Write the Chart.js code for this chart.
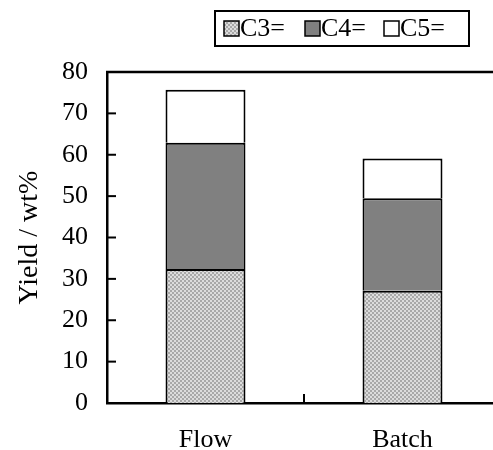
<!DOCTYPE html>
<html>
<head>
<meta charset="utf-8">
<script src="https://cdn.jsdelivr.net/npm/chart.js@4/dist/chart.umd.min.js"></script>
<style>
  html, body { margin: 0; padding: 0; background: #fff; overflow: hidden; }
  #wrap { width: 501px; height: 450px; }
  .probe { font-family: 'Liberation Serif'; position: absolute; left: -999px; }
</style>
</head>
<body>
<span class="probe">C3= Flow 80</span>
<div id="wrap"><canvas id="myChart" width="501" height="450"></canvas></div>
<script>
// Chart data
const categories = ["Flow", "Batch"];
const seriesNames = ["C3=", "C4=", "C5="];
const c3Values = [32.4, 27.1];
const c4Values = [30.5, 22.4];
const c5Values = [12.8, 9.6];
const yTicks = [0, 10, 20, 30, 40, 50, 60, 70, 80];

const FONT = "'Liberation Serif', 'Times New Roman', Times, serif";
const SIZE = 26;

// light grey dotted fill used for C3=
function makePattern() {
    const p = document.createElement("canvas");
    p.width = 4;
    p.height = 4;
    const pc = p.getContext("2d");
    pc.fillStyle = "#dcdcdc";
    pc.fillRect(0, 0, 4, 4);
    pc.fillStyle = "#a8a8a8";
    pc.fillRect(0, 0, 2, 2);
    pc.fillRect(2, 2, 2, 2);
    return pc.createPattern(p, "repeat");
}
const c3Fill = makePattern();

// frame, inward ticks and boxed legend
const framePlugin = {
    id: "frame",
    afterDraw(chart) {
        const ctx = chart.ctx;
        const area = chart.chartArea;
        const y = chart.scales.y;
        const x = chart.scales.x;
        ctx.save();
        ctx.strokeStyle = "#000";
        ctx.lineWidth = 2.5;
        ctx.beginPath();
        ctx.moveTo(area.left - 1, area.top);
        ctx.lineTo(area.right, area.top);
        ctx.stroke();

        ctx.lineWidth = 2;
        yTicks.forEach(v => {
            const py = y.getPixelForValue(v);
            ctx.beginPath();
            ctx.moveTo(area.left, py);
            ctx.lineTo(area.left + 9, py);
            ctx.stroke();
        });
        const mid = (x.getPixelForValue(0) + x.getPixelForValue(1)) / 2;
        ctx.beginPath();
        ctx.moveTo(mid, area.bottom);
        ctx.lineTo(mid, area.bottom - 9);
        ctx.stroke();

        // legend
        const box = { left: 215, top: 11, right: 469, bottom: 46 };
        ctx.lineWidth = 2;
        ctx.strokeRect(box.left, box.top, box.right - box.left, box.bottom - box.top);
        const itemX = [224, 305, 384];
        const midY = (box.top + box.bottom) / 2;
        ctx.font = SIZE + "px " + FONT;
        ctx.textBaseline = "middle";
        chart.data.datasets.forEach((ds, i) => {
            ctx.fillStyle = ds.backgroundColor;
            ctx.fillRect(itemX[i], midY - 7.5, 15, 15);
            ctx.lineWidth = 1.5;
            ctx.strokeRect(itemX[i], midY - 7.5, 15, 15);
            ctx.fillStyle = "#000";
            ctx.fillText(ds.label, itemX[i] + 16, midY + 1);
        });
        ctx.restore();
    }
};

function draw() {
    const ctx = document.getElementById("myChart").getContext("2d");
    new Chart(ctx, {
        type: "bar",
        data: {
            labels: categories,
            datasets: [
                { label: seriesNames[0], data: c3Values, backgroundColor: c3Fill },
                { label: seriesNames[1], data: c4Values, backgroundColor: "#808080" },
                { label: seriesNames[2], data: c5Values, backgroundColor: "#ffffff" }
            ]
        },
        options: {
            responsive: false,
            animation: false,
            layout: { padding: { top: 72, right: 0, left: 0, bottom: 0 } },
            datasets: {
                bar: {
                    borderColor: "#000",
                    borderWidth: 2,
                    categoryPercentage: 1,
                    barPercentage: 0.406
                }
            },
            plugins: {
                legend: { display: false },
                tooltip: { enabled: false }
            },
            scales: {
                x: {
                    stacked: true,
                    grid: { display: false, drawTicks: false },
                    border: { display: true, color: "#000", width: 2.5 },
                    ticks: { color: "#000", font: { family: FONT, size: SIZE }, padding: 22 },
                    afterFit(scale) { scale.height = 47; }
                },
                y: {
                    stacked: true,
                    min: 0,
                    max: 80,
                    grid: { display: false, drawTicks: false },
                    border: { display: true, color: "#000", width: 2.5 },
                    ticks: {
                        stepSize: 10,
                        color: "#000",
                        font: { family: FONT, size: SIZE },
                        padding: 19
                    },
                    title: {
                        display: true,
                        text: "Yield / wt%",
                        color: "#000",
                        font: { family: FONT, size: 28 },
                        padding: { top: 13, bottom: 0 }
                    },
                    afterFit(scale) { scale.width = 107; }
                }
            }
        },
        plugins: [framePlugin]
    });
}

if (document.fonts && document.fonts.load) {
    document.fonts.load(SIZE + "px 'Liberation Serif'").then(draw, draw);
} else {
    draw();
}
</script>
</body>
</html>
